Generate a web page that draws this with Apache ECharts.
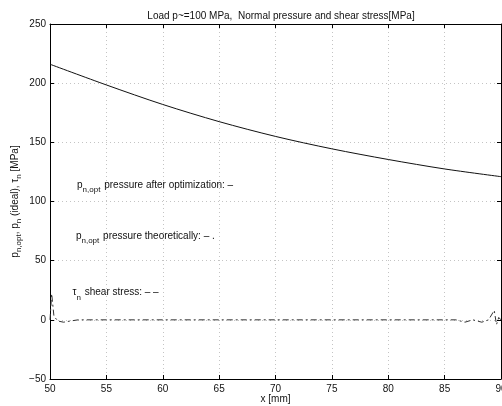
<!DOCTYPE html>
<html><head><meta charset="utf-8">
<script src="https://cdn.jsdelivr.net/npm/echarts@6/dist/echarts.min.js"></script>
<style>html,body{margin:0;padding:0;background:#fff}#c{width:502px;height:406px}</style>
</head><body><div id="c"></div>
<script>
// Data
const xOpt = [50, 55, 60, 65, 70, 75, 80, 85, 90];
const pOpt = [216, 198.5, 182, 167.5, 155, 144.5, 135.5, 127.5, 121];
const xTau = [50, 50.15, 50.35, 50.7, 51.2, 51.8, 52.5, 60, 70, 80, 86, 86.8, 87.5, 88.3, 88.9, 89.4, 89.6, 89.8, 90];
const tau  = [0, 22, 3, -1, -2, -1, 0, 0, 0, 0, 0, -2, 0, -2, 0, 8, -4, 2, 0];
const xTicks = { min: 50, max: 90, interval: 5 };
const yTicks = { min: -50, max: 250, interval: 50 };
const titleText = 'Load p~=100 MPa,  Normal pressure and shear stress[MPa]';
const xName = 'x [mm]';
const yName = 'p{s|n,opt}, p{s|n} (ideal), τ{s|n} [MPa]';
const notes = [
  { x: 52.4, y: 114, main: 'p', sub: 'n,opt', rest: ' pressure after optimization: –' },
  { x: 52.3, y: 71, main: 'p', sub: 'n,opt', rest: ' pressure theoretically: – .' },
  { x: 52.0, y: 23, main: 'τ', sub: 'n', rest: ' shear stress: – –' }
];

const FONT = 'Liberation Sans, Arial, Helvetica, sans-serif';
const FS = 10;
const chart = echarts.init(document.getElementById('c'), null, { renderer: 'canvas' });
const grid = { left: 50, right: 1, top: 24, bottom: 27, containLabel: false, outerBoundsMode: 'none' };
const axisCommon = {
  axisLine: { show: true, onZero: false, lineStyle: { color: '#000', width: 1 } },
  axisTick: { show: true, inside: true, length: 4, lineStyle: { color: '#000' } }
};
chart.setOption({
  animation: false,
  backgroundColor: '#fff',
  title: { text: titleText, left: 276, top: 6, textAlign: 'center',
    textStyle: { fontFamily: FONT, fontSize: FS, fontWeight: 'normal', color: '#111' } },
  grid: grid,
  xAxis: [
    Object.assign({ type: 'value', min: xTicks.min, max: xTicks.max, interval: xTicks.interval,
      name: xName, nameLocation: 'middle', nameGap: 15, nameMoveOverlap: false,
      nameTextStyle: { fontFamily: FONT, fontSize: FS, color: '#111' },
      axisLabel: { fontFamily: FONT, fontSize: FS, color: '#111', margin: 5 },
      splitLine: { show: true, lineStyle: { color: '#c4c4c4', type: [1, 3] } } }, axisCommon),
    Object.assign({ type: 'value', position: 'top', min: xTicks.min, max: xTicks.max, interval: xTicks.interval,
      axisLabel: { show: false }, splitLine: { show: false } }, axisCommon)
  ],
  yAxis: [
    Object.assign({ type: 'value', min: yTicks.min, max: yTicks.max, interval: yTicks.interval,
      name: yName, nameLocation: 'middle', nameGap: 27, nameMoveOverlap: false,
      nameTextStyle: { fontFamily: FONT, fontSize: FS, color: '#111',
        rich: { s: { fontFamily: FONT, fontSize: 8, color: '#111', padding: [7, 0, 0, 0] } } },
      axisLabel: { fontFamily: FONT, fontSize: FS, color: '#111', margin: 4,
        formatter: v => String(v).replace('-', '−') },
      splitLine: { show: true, lineStyle: { color: '#c4c4c4', type: [1, 3] } } }, axisCommon),
    Object.assign({ type: 'value', position: 'right', min: yTicks.min, max: yTicks.max, interval: yTicks.interval,
      axisLabel: { show: false }, splitLine: { show: false } }, axisCommon)
  ],
  series: [
    { type: 'line', name: 'p_opt', data: xOpt.map((x, i) => [x, pOpt[i]]), smooth: 0.3,
      showSymbol: false, lineStyle: { color: '#111', width: 1 } },
    { type: 'line', name: 'tau', data: xTau.map((x, i) => [x, tau[i]]),
      showSymbol: false, lineStyle: { color: '#333', width: 1, type: [6, 3, 2, 3] } }
  ]
});

const ctx = document.createElement('canvas').getContext('2d');
function tw(t, size) { ctx.font = size + 'px ' + FONT; return ctx.measureText(t).width; }
const gfx = [];
notes.forEach(n => {
  const [px, py] = chart.convertToPixel({ xAxisIndex: 0, yAxisIndex: 0 }, [n.x, n.y]);
  const w1 = tw(n.main, FS), w2 = tw(n.sub, 8);
  const st = { fontFamily: FONT, fill: '#111', verticalAlign: 'middle', align: 'left' };
  gfx.push({ type: 'text', x: px, y: py, style: Object.assign({ text: n.main, fontSize: FS }, st) });
  gfx.push({ type: 'text', x: px + w1, y: py + 5, style: Object.assign({ text: n.sub, fontSize: 8 }, st) });
  gfx.push({ type: 'text', x: px + w1 + w2 + 1, y: py, style: Object.assign({ text: n.rest, fontSize: FS }, st) });
});
chart.setOption({ graphic: gfx });
</script></body></html>
